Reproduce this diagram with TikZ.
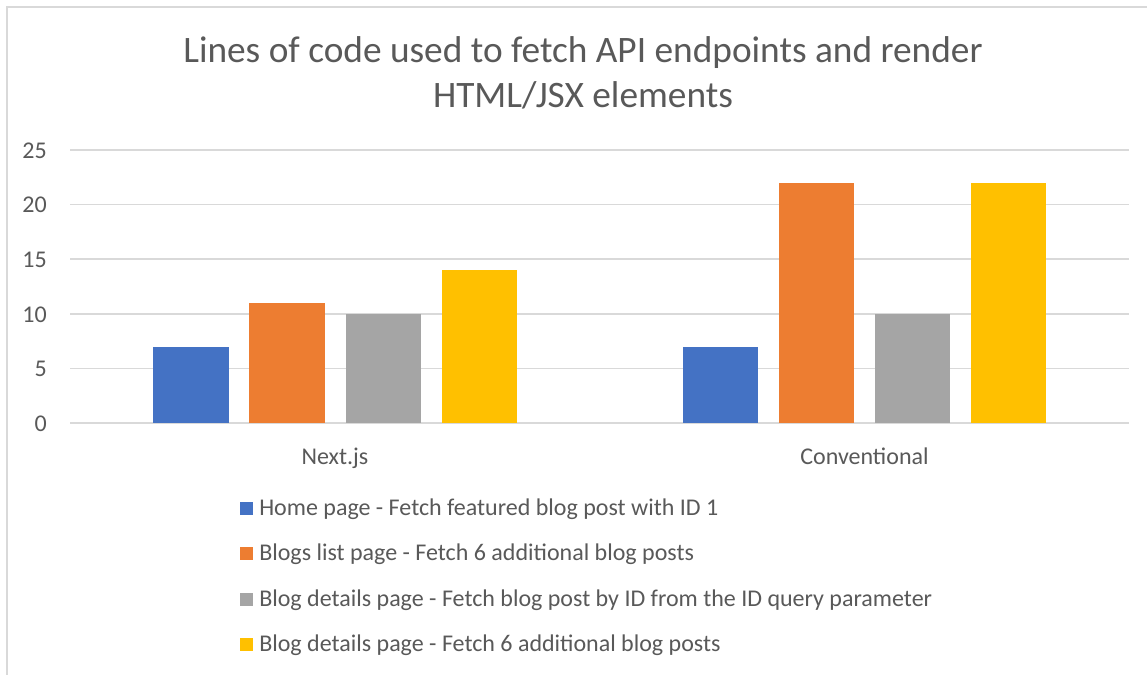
\documentclass[tikz,border=0pt]{standalone}
\usepackage{fontspec}
\setmainfont{Carlito}
\definecolor{txt}{HTML}{595959}
\definecolor{grid}{HTML}{D9D9D9}
\definecolor{cblue}{HTML}{4472C4}
\definecolor{corange}{HTML}{ED7D31}
\definecolor{cgray}{HTML}{A5A5A5}
\definecolor{cyellow}{HTML}{FFC000}
\tikzset{
  gridline/.style={draw=grid, line width=1.125pt},
  ticklabel/.style={anchor=east, inner sep=0pt, text=txt, font=\fontsize{18}{21}\selectfont},
  catlabel/.style={anchor=base, inner sep=0pt, text=txt, font=\fontsize{18}{21}\selectfont},
  legtext/.style={anchor=base west, inner sep=0pt, text=txt, font=\fontsize{18}{21}\selectfont},
  legkey/.style={minimum width=9.75pt, minimum height=9.75pt, inner sep=0pt, anchor=south west},
}
\begin{document}
\begin{tikzpicture}[x=0.75pt, y=-0.75pt]
\useasboundingbox (0,0) rectangle (1147,675);
\fill[white] (0,0) rectangle (1147,675);
% chart border
\draw[draw=grid, line width=1.5pt] (6.5,675) -- (6.5,6.5) -- (1147,6.5);
% title
\node[text=txt, align=center, inner sep=0pt, anchor=base, font=\fontsize{28}{33.75}\selectfont] (title) at (583,107)
  {Lines of code used to fetch API endpoints and render\\HTML/JSX elements};
% gridlines and ticks
\foreach \v/\n in {0/t0,5/t5,10/t10,15/t15,20/t20,25/t25}{
  \draw[gridline] (70,{423-\v*10.92}) -- (1129,{423-\v*10.92});
  \node[ticklabel] (\n) at (47,{423.5-\v*10.92}) {\v};
}
% bars
\foreach \x/\v/\c in {153/7/cblue,249/11/corange,345.5/10/cgray,441.5/14/cyellow,
                      682.5/7/cblue,778.5/22/corange,874.5/10/cgray,970.5/22/cyellow}{
  \fill[\c] (\x,423) rectangle ({\x+75.5},{423-\v*10.92});
}
% category labels
\node[catlabel] (next) at (335,464) {Next.js};
\node[catlabel] (conv) at (864.5,464) {Conventional};
% legend
\node[legkey, fill=cblue] (k1) at (239.5,515) {};
\node[legtext] (l1) at (259,515) {Home page - Fetch featured blog post with ID 1};
\node[legkey, fill=corange] (k2) at (239.5,560.5) {};
\node[legtext] (l2) at (259,560.5) {Blogs list page - Fetch 6 additional blog posts};
\node[legkey, fill=cgray] (k3) at (239.5,606) {};
\node[legtext] (l3) at (259,606) {Blog details page - Fetch blog post by ID from the ID query parameter};
\node[legkey, fill=cyellow] (k4) at (239.5,651) {};
\node[legtext] (l4) at (259,651) {Blog details page - Fetch 6 additional blog posts};
\end{tikzpicture}
\end{document}
